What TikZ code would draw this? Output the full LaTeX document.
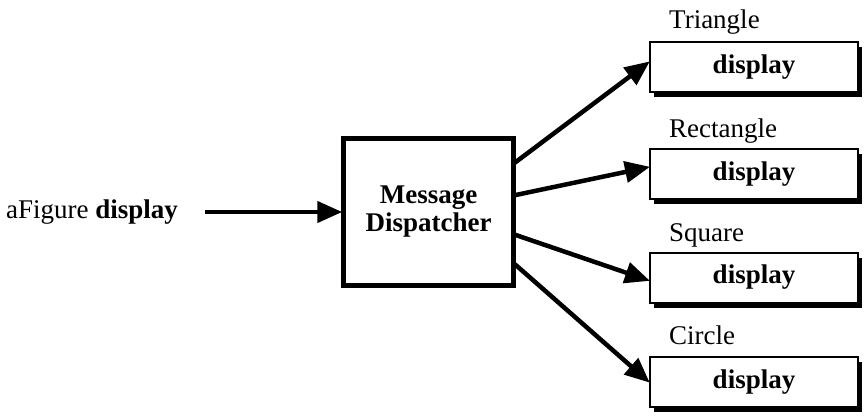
\documentclass[tikz,border=0pt]{standalone}
\usepackage{fontspec}
\setmainfont{Liberation Serif}
\usetikzlibrary{arrows.meta,shadows}
\begin{document}
\begin{tikzpicture}[x=1pt,y=-1pt,
  every node/.style={font=\fontsize{27}{31}\selectfont, inner sep=0pt},
  dispbox/.style={draw, line width=2pt, fill=white, minimum width=208pt, minimum height=50pt,
    font=\fontsize{27}{31}\selectfont\bfseries,
    drop shadow={shadow xshift=4pt, shadow yshift=-5pt, opacity=1, fill=black}},
  mdbox/.style={draw, line width=4.5pt, minimum width=170pt, minimum height=147pt, align=center,
    font=\fontsize{27}{31}\selectfont\bfseries},
  conn/.style={line width=4.5pt, -{Triangle[length=25pt,width=21pt]}, shorten >=-1pt},
  cls/.style={anchor=base west}
]
\useasboundingbox (0,0) rectangle (866,418);
\node[mdbox] (md) at (428.5,212) {Message\\[-3pt]Dispatcher};
\node[anchor=west] (msg) at (6,212) {aFigure \textbf{display}};
\coordinate (in) at (205,212);
\draw[conn] (in) -- (md.west);

\node[dispbox] (t) at (754,67) {display};
\node[dispbox] (r) at (754,174) {display};
\node[dispbox] (s) at (754,277.5) {display};
\node[dispbox] (c) at (754,382) {display};

\node[cls] (tl) at (669,28) {Triangle};
\node[cls] (rl) at (669,137) {Rectangle};
\node[cls] (sl) at (669,241) {Square};
\node[cls] (cl) at (669,344) {Circle};

\draw[conn, shorten <=-1pt] ([yshift=50pt]md.east) -- ([yshift=5pt]t.west);
\draw[conn, shorten <=-1pt] ([yshift=17pt]md.east) -- ([yshift=7pt]r.west);
\draw[conn, shorten <=-1pt] ([yshift=-23pt]md.east) -- ([yshift=-3pt]s.west);
\draw[conn, shorten <=-1pt] ([yshift=-53pt]md.east) -- (c.west);
\end{tikzpicture}
\end{document}
